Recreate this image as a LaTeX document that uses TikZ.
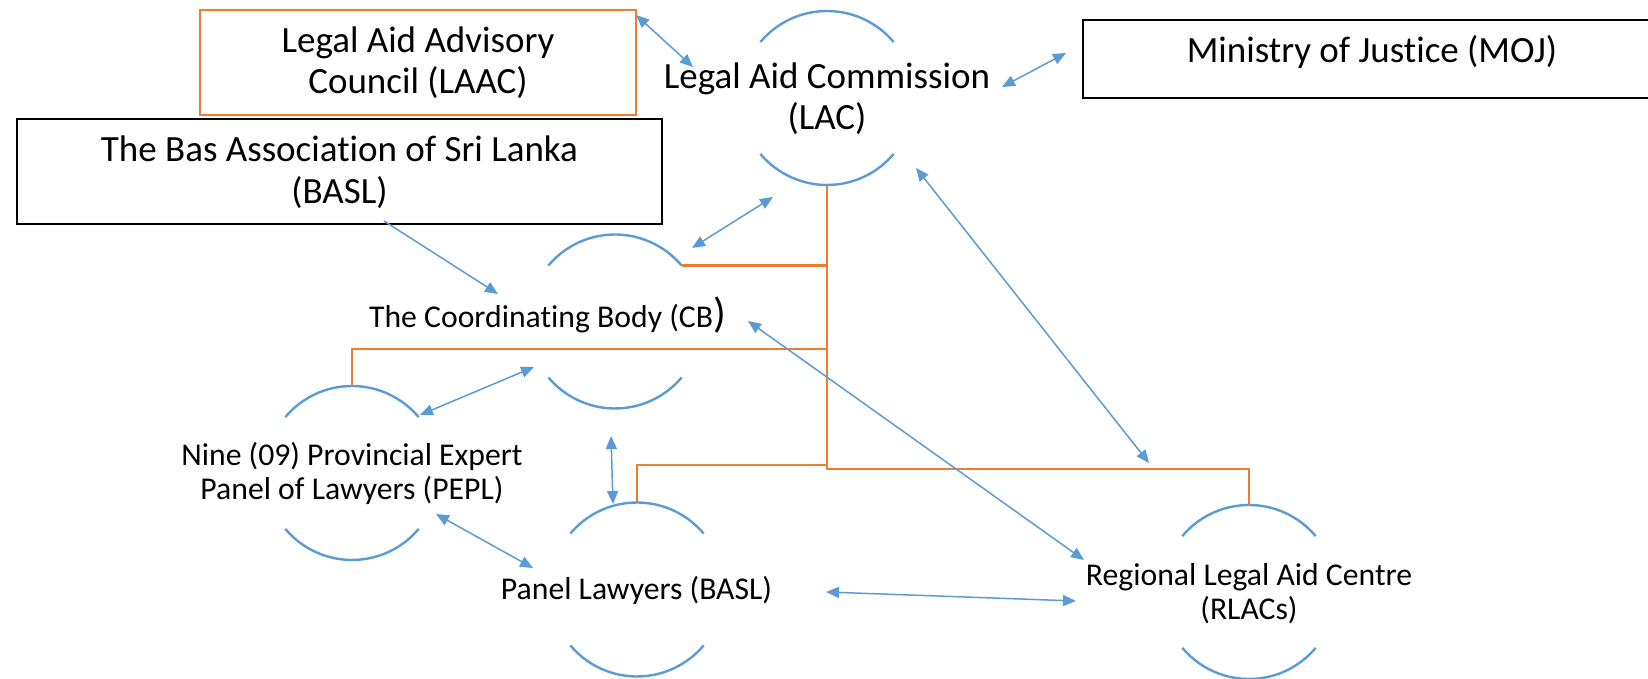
\documentclass[tikz,border=0pt]{standalone}
\usepackage{fontspec}
\setmainfont{Carlito}[Ligatures=NoCommon]
\usepackage{tikz}
\usetikzlibrary{arrows.meta, calc}

\definecolor{lineblue}{HTML}{5B9BD5}
\definecolor{lineorange}{HTML}{ED7D31}

\begin{document}
\begin{tikzpicture}[x=0.5pt, y=0.5pt,
    ring/.style={circle, minimum size=87pt, inner sep=0pt, outer sep=0pt},
    arcline/.style={draw=lineblue, line width=1.2pt},
    bigtext/.style={font=\fontsize{18.5}{20.5}\selectfont, align=center},
    smalltext/.style={font=\fontsize{15.85}{17.25}\selectfont, align=center},
    framebox/.style={bigtext, draw=#1, line width=1pt, inner sep=0pt, outer sep=0pt},
    twoway/.style={draw=lineblue, line width=0.75pt, {Triangle[length=6.5pt, width=5.5pt]}-{Triangle[length=6.5pt, width=5.5pt]}},
    oneway/.style={draw=lineblue, line width=0.75pt, -{Triangle[length=6.5pt, width=5.5pt]}},
    orgline/.style={draw=lineorange, line width=1.2pt}]
  \useasboundingbox (0,0) rectangle (1648,679);
  \clip (0,0) rectangle (1648,679);

  % boxes
  \node[framebox=lineorange, minimum width=218pt, minimum height=52.5pt,
        text height=35.5pt, text depth=4pt] (laac) at (418,616.5)
        {Legal Aid Advisory\\Council (LAAC)};
  \node[framebox=black, font=\fontsize{18.5}{21}\selectfont, minimum width=322.5pt,
        minimum height=52.5pt, text height=36.5pt, text depth=4pt] (basl) at (339.5,507.5)
        {The Bas Association of Sri Lanka\\(BASL)};
  \node[framebox=black, minimum width=289pt, minimum height=39pt,
        text height=8pt, text depth=4pt] (moj) at (1372,620)
        {Ministry of Justice (MOJ)};

  % rings and their texts
  \node[ring] (lacRing) at (827,581) {};
  \node[bigtext, anchor=base] (lac) at (827,549) {Legal Aid Commission\\(LAC)};
  \node[ring] (cbRing) at (615,357.5) {};
  \node[smalltext, anchor=base] (cb) at (547.5,351)
        {The Coordinating Body (CB{\fontsize{21}{21}\selectfont )}};
  \node[ring] (peplRing) at (352,206) {};
  \node[smalltext, anchor=base] (pepl) at (352,179)
        {Nine (09) Provincial Expert\\Panel of Lawyers (PEPL)};
  \node[ring] (panelRing) at (637,89.5) {};
  \node[smalltext, anchor=base] (panel) at (636.5,79) {Panel Lawyers (BASL)};
  \node[ring] (rlacRing) at (1249,87) {};
  \node[smalltext, anchor=base] (rlac) at (1249,59)
        {Regional Legal Aid Centre\\(RLACs)};

  \draw[arcline] (lacRing.40) arc[start angle=40, end angle=140, radius=43.5pt]
                 (lacRing.220) arc[start angle=220, end angle=320, radius=43.5pt];
  \draw[arcline] (cbRing.40) arc[start angle=40, end angle=140, radius=43.5pt]
                 (cbRing.220) arc[start angle=220, end angle=320, radius=43.5pt];
  \draw[arcline] (peplRing.40) arc[start angle=40, end angle=140, radius=43.5pt]
                 (peplRing.220) arc[start angle=220, end angle=320, radius=43.5pt];
  \draw[arcline] (panelRing.40) arc[start angle=40, end angle=140, radius=43.5pt]
                 (panelRing.220) arc[start angle=220, end angle=320, radius=43.5pt];
  \draw[arcline] (rlacRing.40) arc[start angle=40, end angle=140, radius=43.5pt]
                 (rlacRing.220) arc[start angle=220, end angle=320, radius=43.5pt];

  % orange tree
  \coordinate (cbJoin) at (827,330);
  \coordinate (panelJoin) at (827,214);
  \coordinate (trunkEnd) at (827,210);
  \draw[orgline] (lacRing.south) -- (trunkEnd) -| (rlacRing.north);
  \draw[orgline] (cbRing.40) -- (cbRing.40 -| lacRing.south);
  \draw[orgline] (peplRing.north) |- (cbJoin);
  \draw[orgline] (panelRing.north) |- (panelJoin);

  % blue arrows
  \draw[twoway] ([shift={(0,-5)}]laac.north east) -- ([shift={(-134,31)}]lacRing.center);
  \draw[twoway] ([shift={(175,11)}]lacRing.center) -- ([shift={(-17,6)}]moj.west);
  \draw[twoway] ([shift={(-54,-99)}]lacRing.center) -- ([shift={(77,73.5)}]cbRing.center);
  \draw[oneway] ([shift={(44.5,3)}]basl.south) -- ([shift={(-117,27.5)}]cbRing.center);
  \draw[twoway] ([shift={(89,-70)}]lacRing.center) -- ([shift={(-100,129)}]rlacRing.center);
  \draw[twoway] ([shift={(133,0.5)}]cbRing.center) -- ([shift={(-165,32)}]rlacRing.center);
  \draw[twoway] ([shift={(68,58)}]peplRing.center) -- ([shift={(-81,-45.5)}]cbRing.center);
  \draw[twoway] ([shift={(-4,-114.5)}]cbRing.center) -- ([shift={(-24,85.5)}]panelRing.center);
  \draw[twoway] ([shift={(84,-41)}]peplRing.center) -- ([shift={(-104,21.5)}]panelRing.center);
  \draw[twoway] ([shift={(189,-2.5)}]panelRing.center) -- ([shift={(-173,-9)}]rlacRing.center);
\end{tikzpicture}
\end{document}
